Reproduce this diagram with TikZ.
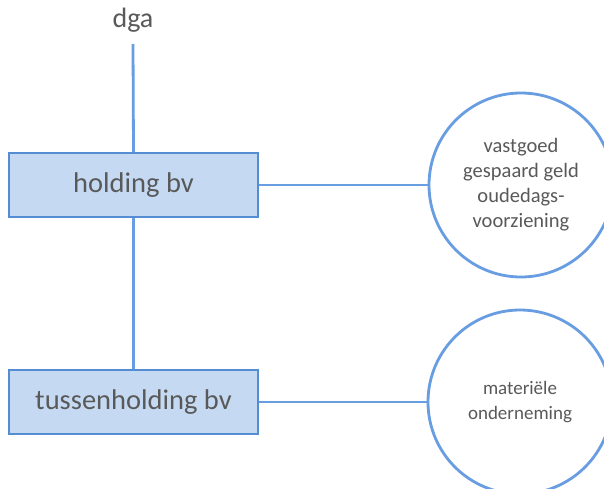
\documentclass[tikz,border=0pt]{standalone}
\usepackage{fontspec}
\setmainfont{Carlito}
\definecolor{linkblue}{RGB}{104,157,226}
\definecolor{boxfill}{RGB}{197,218,242}
\definecolor{boxline}{RGB}{84,141,212}
\definecolor{txt}{RGB}{89,89,89}
\begin{document}
\begin{tikzpicture}[x=1pt,y=-1pt,
  entity/.style={draw=boxline,line width=1.6pt,fill=boxfill,minimum width=249pt,minimum height=64pt,
    inner sep=0pt,text=txt,font=\fontsize{28.5}{32}\selectfont},
  asset/.style={circle,draw=linkblue,line width=2.8pt,fill=white,minimum size=184pt,inner sep=0pt,
    align=center,text=txt},
  link/.style={draw=linkblue,line width=2.8pt}]
  \useasboundingbox (0,0) rectangle (604,489);
  \begin{scope}
  \clip (0,0) rectangle (604,489);
  \node[text=txt,font=\fontsize{28}{32}\selectfont] (dga) at (133,20) {dga};
  \coordinate (dgatop) at (133,44);
  \node[entity] (hold) at (133.5,185) {holding bv};
  \node[entity] (tuss) at (133.5,402) {tussenholding bv};
  \node[asset,font=\fontsize{20.5}{25}\selectfont] (c1) at (521,185) {vastgoed\\gespaard geld\\oudedags-\\voorziening};
  \node[asset,font=\fontsize{19}{25}\selectfont] (c2) at (520,402) {materiële\\onderneming};
  \draw[link] (dgatop) -- (hold.north);
  \draw[link] (hold.south) -- (tuss.north);
  \draw[link] (hold.east) -- (c1.west);
  \draw[link] (tuss.east) -- (c2.west);
  \end{scope}
\end{tikzpicture}
\end{document}
